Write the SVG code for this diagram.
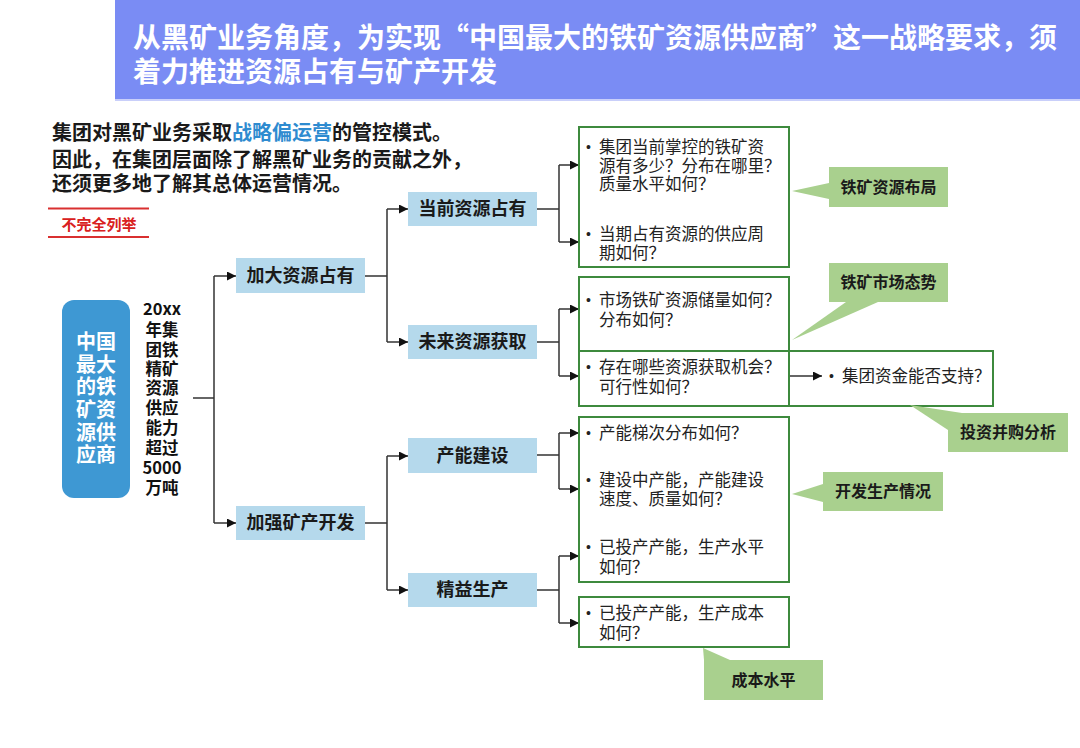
<svg xmlns="http://www.w3.org/2000/svg" width="1080" height="748" viewBox="0 0 1080 748">
<style>
text{font-family:"Noto Sans CJK SC","Liberation Sans",sans-serif;}
.title{font-size:28px;font-weight:700;fill:#ffffff;}
.intro{font-size:20px;font-weight:700;fill:#1a1a1a;}
.lvl{fill:#b5d9ec;}
.lvltx{font-size:18px;font-weight:700;fill:#1a1a1a;text-anchor:middle;}
.gbox{fill:#ffffff;stroke:#3d8a3d;stroke-width:2;}
.gboxn{fill:none;stroke:#3d8a3d;stroke-width:2;}
.btx{font-size:16.5px;fill:#222222;}
.bul{font-family:"Liberation Sans",sans-serif;font-size:14px;fill:#222222;}
.call{fill:#a9d08e;}
.calltx{font-size:16px;font-weight:700;fill:#1a1a1a;text-anchor:middle;}
.con{fill:none;stroke:#333333;stroke-width:1.5;}
</style>
<defs>
<marker id="arr" markerUnits="userSpaceOnUse" markerWidth="9" markerHeight="9" refX="9" refY="4.5" orient="auto">
<path d="M0,0 L9,4.5 L0,9 z" fill="#111111"/>
</marker>
</defs>
<rect width="1080" height="748" fill="#ffffff"/>

<g id="title">
<rect x="115" y="0" width="965" height="100" fill="#7a8cf4"/>
<rect x="115" y="99" width="965" height="2" fill="#c9cffa"/>
<text class="title" x="133" y="48">从黑矿业务角度，为实现“中国最大的铁矿资源供应商”这一战略要求，须</text>
<text class="title" x="133" y="82">着力推进资源占有与矿产开发</text>
</g>

<g id="intro">
<text class="intro" x="52" y="140">集团对黑矿业务采取<tspan fill="#2e8bd0">战略偏运营</tspan>的管控模式。</text>
<text class="intro" x="52" y="167">因此，在集团层面除了解黑矿业务的贡献之外，</text>
<text class="intro" x="52" y="191">还须更多地了解其总体运营情况。</text>
</g>

<g id="note">
<line x1="48" y1="208.5" x2="149" y2="208.5" stroke="#d93030" stroke-width="2"/>
<line x1="48" y1="237" x2="149" y2="237" stroke="#d93030" stroke-width="2"/>
<text x="99" y="230" font-size="15" font-weight="700" fill="#d92020" text-anchor="middle">不完全列举</text>
</g>

<g id="connectors">
<path class="con" d="M193,398 H214"/>
<path class="con" d="M214,276 V523"/>
<path class="con" d="M214,276 H236" marker-end="url(#arr)"/>
<path class="con" d="M214,523 H236" marker-end="url(#arr)"/>
<path class="con" d="M365,276 H387 M387,209 V342"/>
<path class="con" d="M387,209 H408" marker-end="url(#arr)"/>
<path class="con" d="M387,342 H408" marker-end="url(#arr)"/>
<path class="con" d="M365,523 H387 M387,456 V590"/>
<path class="con" d="M387,456 H408" marker-end="url(#arr)"/>
<path class="con" d="M387,590 H408" marker-end="url(#arr)"/>
<path class="con" d="M537,209 H559 M559,165 V242"/>
<path class="con" d="M559,165 H579" marker-end="url(#arr)"/>
<path class="con" d="M559,242 H579" marker-end="url(#arr)"/>
<path class="con" d="M537,342 H559 M559,309 V376"/>
<path class="con" d="M559,309 H579" marker-end="url(#arr)"/>
<path class="con" d="M559,376 H579" marker-end="url(#arr)"/>
<path class="con" d="M537,455 H559 M559,433 V489"/>
<path class="con" d="M559,433 H579" marker-end="url(#arr)"/>
<path class="con" d="M559,489 H579" marker-end="url(#arr)"/>
<path class="con" d="M537,590 H559 M559,556 V623"/>
<path class="con" d="M559,556 H579" marker-end="url(#arr)"/>
<path class="con" d="M559,623 H579" marker-end="url(#arr)"/>
<path class="con" d="M780,376 H822" marker-end="url(#arr)"/>
</g>

<g id="root">
<rect x="62" y="300" width="68" height="198" rx="12" fill="#3e98d3"/>
<text font-size="20" font-weight="700" fill="#ffffff" text-anchor="middle">
<tspan x="96" y="349">中国</tspan><tspan x="96" y="372">最大</tspan><tspan x="96" y="394">的铁</tspan><tspan x="96" y="417">矿资</tspan><tspan x="96" y="440">源供</tspan><tspan x="96" y="462">应商</tspan>
</text>
</g>

<g id="target">
<text font-size="16.5" font-weight="700" fill="#111111" text-anchor="middle">
<tspan x="162" y="315">20xx</tspan><tspan x="162" y="336">年集</tspan><tspan x="162" y="356">团铁</tspan><tspan x="162" y="375">精矿</tspan><tspan x="162" y="394">资源</tspan><tspan x="162" y="414">供应</tspan><tspan x="162" y="434">能力</tspan><tspan x="162" y="454">超过</tspan><tspan x="162" y="474">5000</tspan><tspan x="162" y="494">万吨</tspan>
</text>
</g>

<g id="n-jiada"><rect class="lvl" x="236" y="258" width="129" height="35"/><text class="lvltx" x="300.5" y="282">加大资源占有</text></g>
<g id="n-jiaqiang"><rect class="lvl" x="236" y="506" width="129" height="34"/><text class="lvltx" x="300.5" y="529">加强矿产开发</text></g>
<g id="n-dangqian"><rect class="lvl" x="408" y="192" width="129" height="34"/><text class="lvltx" x="472.5" y="215">当前资源占有</text></g>
<g id="n-weilai"><rect class="lvl" x="408" y="325" width="129" height="34"/><text class="lvltx" x="472.5" y="348">未来资源获取</text></g>
<g id="n-channeng"><rect class="lvl" x="408" y="438" width="129" height="35"/><text class="lvltx" x="472.5" y="462">产能建设</text></g>
<g id="n-jingyi"><rect class="lvl" x="408" y="573" width="129" height="34"/><text class="lvltx" x="472.5" y="596">精益生产</text></g>

<g id="box-current">
<rect class="gbox" x="579" y="127" width="210" height="140"/>
<text class="bul" x="586" y="152">•</text>
<text class="btx"><tspan x="599" y="153">集团当前掌控的铁矿资</tspan><tspan x="599" y="172">源有多少？分布在哪里？</tspan><tspan x="599" y="190">质量水平如何？</tspan></text>
<text class="bul" x="586" y="239">•</text>
<text class="btx"><tspan x="599" y="240">当期占有资源的供应周</tspan><tspan x="599" y="259">期如何？</tspan></text>
</g>

<g id="box-future">
<rect class="gbox" x="579" y="277" width="210" height="129"/>
<rect class="gboxn" x="579" y="351" width="414" height="55"/>
<text class="bul" x="586" y="305">•</text>
<text class="btx"><tspan x="599" y="306">市场铁矿资源储量如何？</tspan><tspan x="599" y="326">分布如何？</tspan></text>
<text class="bul" x="586" y="372">•</text>
<text class="btx"><tspan x="599" y="373">存在哪些资源获取机会？</tspan><tspan x="599" y="393">可行性如何？</tspan></text>
<text class="bul" x="829" y="381">•</text>
<text class="btx" x="842" y="382">集团资金能否支持？</text>
</g>

<g id="box-capacity">
<rect class="gbox" x="579" y="417" width="210" height="165"/>
<text class="bul" x="586" y="438">•</text>
<text class="btx" x="599" y="439">产能梯次分布如何？</text>
<text class="bul" x="586" y="485">•</text>
<text class="btx"><tspan x="599" y="486">建设中产能，产能建设</tspan><tspan x="599" y="505">速度、质量如何？</tspan></text>
<text class="bul" x="586" y="552">•</text>
<text class="btx"><tspan x="599" y="553">已投产产能，生产水平</tspan><tspan x="599" y="573">如何？</tspan></text>
</g>

<g id="box-cost">
<rect class="gbox" x="579" y="597" width="210" height="50"/>
<text class="bul" x="586" y="618">•</text>
<text class="btx"><tspan x="599" y="619">已投产产能，生产成本</tspan><tspan x="599" y="639">如何？</tspan></text>
</g>

<g id="c-buju">
<polygon class="call" points="792,191 829,183 829,199"/>
<rect class="call" x="829" y="167" width="119" height="40"/>
<text class="calltx" x="888.5" y="193">铁矿资源布局</text>
</g>
<g id="c-taishi">
<polygon class="call" points="792,340 846,302 878,302"/>
<rect class="call" x="829" y="263" width="119" height="39"/>
<text class="calltx" x="888.5" y="288">铁矿市场态势</text>
</g>
<g id="c-binggou">
<polygon class="call" points="910,405 962,413 948,430"/>
<rect class="call" x="948" y="413" width="120" height="39"/>
<text class="calltx" x="1008" y="438">投资并购分析</text>
</g>
<g id="c-kaifa">
<polygon class="call" points="792,494 823,484 823,502"/>
<rect class="call" x="823" y="472" width="120" height="39"/>
<text class="calltx" x="883" y="497">开发生产情况</text>
</g>
<g id="c-chengben">
<polygon class="call" points="703,648 704,660 730,660"/>
<rect class="call" x="704" y="660" width="119" height="40"/>
<text class="calltx" x="763.5" y="686">成本水平</text>
</g>
</svg>
